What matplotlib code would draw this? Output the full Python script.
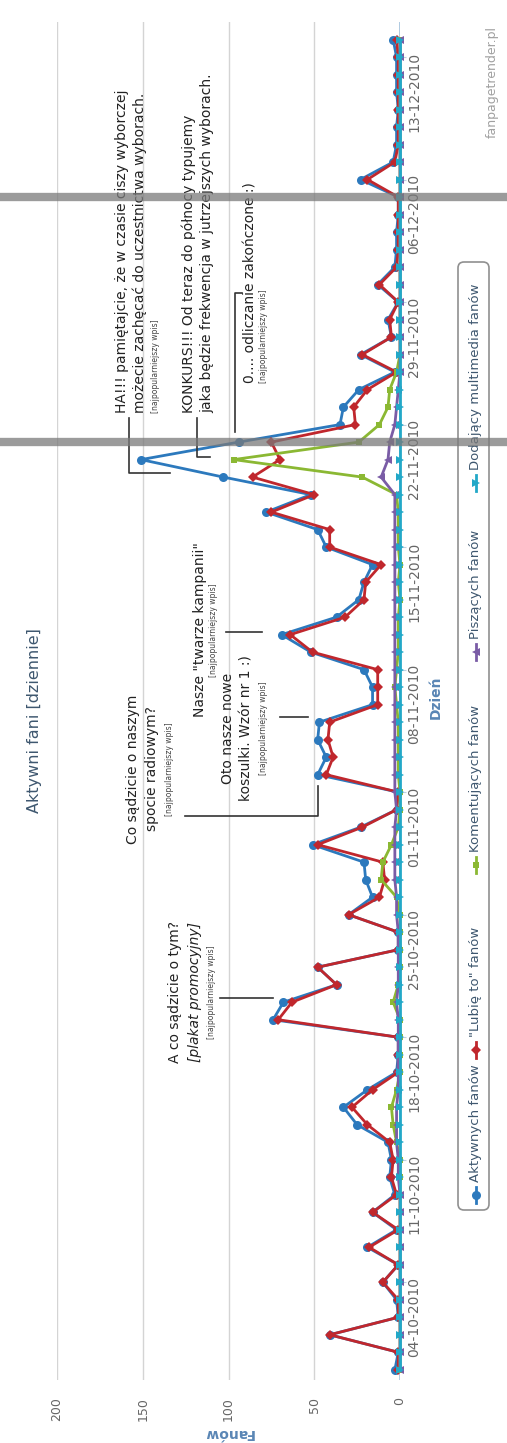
import matplotlib
matplotlib.use("Agg")
import matplotlib.pyplot as plt
import matplotlib.dates as mdates
import matplotlib.transforms as mtransforms
from matplotlib.patches import FancyBboxPatch
from matplotlib.lines import Line2D
import pandas as pd

W, H = 507, 1443

# ---- data -------------------------------------------------------------
dates = pd.date_range("2010-09-29", "2010-12-14", freq="D")

aktywni = [3, 1, 41, 1, 2, 10, 1, 19, 2, 16,
           3, 6, 5, 7, 25, 33, 19, 2, 1, 1,
           74, 68, 37, 48, 1, 1, 30, 16, 20, 21,
           51, 23, 2, 1, 48, 43, 48, 47, 16, 16,
           21, 52, 69, 37, 24, 21, 16, 43, 48, 78,
           52, 103, 151, 94, 35, 33, 24, 3, 23, 5,
           7, 1, 13, 3, 2, 2, 1, 1, 23, 4,
           2, 2, 1, 2, 2, 2, 4]

lubie_to = [1, 1, 41, 1, 1, 10, 1, 18, 1, 16,
            2, 5, 4, 6, 19, 28, 16, 1, 1, 1,
            71, 63, 37, 48, 1, 1, 30, 12, 9, 10,
            48, 22, 2, 1, 43, 39, 42, 41, 13, 13,
            13, 51, 64, 32, 21, 20, 11, 41, 41, 75,
            50, 86, 70, 75, 26, 27, 19, 2, 22, 5,
            6, 1, 12, 2, 1, 1, 1, 1, 19, 3,
            1, 1, 1, 1, 1, 1, 2]

komentujacy = [0, 0, 0, 0, 0, 0, 0, 0, 0, 0,
               0, 0, 0, 2, 4, 5, 2, 0, 0, 0,
               0, 4, 1, 0, 0, 0, 0, 2, 11, 10,
               5, 1, 0, 0, 1, 1, 1, 1, 2, 3,
               2, 1, 1, 1, 0, 1, 0, 1, 1, 1,
               2, 22, 97, 24, 12, 7, 6, 2, 0, 0,
               0, 0, 0, 0, 0, 0, 0, 0, 0, 0,
               0, 0, 0, 0, 0, 0, 0]

piszacy = [0, 0, 0, 0, 0, 0, 0, 0, 0, 0,
           0, 1, 1, 2, 2, 2, 1, 1, 1, 1,
           1, 2, 1, 1, 1, 1, 2, 2, 3, 3,
           3, 3, 2, 3, 3, 3, 3, 3, 3, 3,
           3, 3, 3, 3, 3, 3, 3, 3, 3, 3,
           3, 11, 7, 6, 3, 2, 1, 0, 0, 0,
           0, 0, 0, 0, 0, 0, 0, 0, 0, 0,
           0, 0, 0, 0, 0, 0, 0]

multimedia = [0] * 77

series = [
    ("Aktywnych fanów", aktywni, "#2c79bd", "o", 6.5),
    ("\"Lubię to\" fanów", lubie_to, "#c0272d", "D", 5.0),
    ("Komentujących fanów", komentujacy, "#8bb833", "s", 5.0),
    ("Piszących fanów", piszacy, "#7a5ca6", "<", 6.0),
    ("Dodający multimedia fanów", multimedia, "#22a8c8", ">", 6.0),
]

week_ticks = pd.date_range("2010-10-04", "2010-12-13", freq="7D")
value_ticks = [0, 50, 100, 150, 200]
election_days = pd.to_datetime(["2010-11-21", "2010-12-05"])

# ---- figure -----------------------------------------------------------
fig = plt.figure(figsize=(W / 100, H / 100), dpi=100)
fig.patch.set_facecolor("white")
ax = fig.add_axes([57 / W, 63 / H, 343 / W, 1358 / H])
ax.set_facecolor("white")

for name, vals, col, mk, ms in series:
    ax.plot(vals, dates, color=col, lw=2.0, marker=mk, ms=ms,
            markeredgewidth=0, clip_on=False, zorder=3, solid_joinstyle="round")

ax.set_xlim(200, 0)
ax.set_ylim(dates[0] - pd.Timedelta(hours=14), dates[-1] + pd.Timedelta(hours=24))
ax.set_xticks(value_ticks)
ax.set_yticks(week_ticks)
ax.yaxis.set_major_formatter(mdates.DateFormatter("%d-%m-%Y"))
ax.yaxis.tick_right()

for s in ax.spines.values():
    s.set_visible(False)
ax.grid(axis="x", color="#d4d4d4", lw=1.0, zorder=0)
ax.axvline(0, color="#a9c6df", lw=2.0, zorder=2)

ax.tick_params(axis="x", length=0, pad=12, labelsize=9, labelcolor="#666666",
               labelrotation=90)
ax.tick_params(axis="y", length=4, color="#C0D0E0", pad=1, labelsize=10,
               labelcolor="#666666", labelrotation=90)

# ---- overlay helpers (pixel coordinates, origin top-left) ---------------
ident = mtransforms.IdentityTransform()


def vtext(x, y, s, size=10, ha="center", va="center", **kw):
    fig.text(x, H - y, s, rotation=90, fontsize=size, ha=ha, va=va,
             transform=ident, zorder=8, **kw)


def path(points, color="#333333", lw=1.2):
    xs = [p[0] for p in points]
    ys = [H - p[1] for p in points]
    fig.add_artist(Line2D(xs, ys, color=color, lw=lw, transform=ident, zorder=5))


# title, axis titles, credits
vtext(35, 721, "Aktywni fani [dziennie]", size=11.5, color="#3E576F")
fig.text(228, H - 1433, "Fanów", rotation=180, fontsize=10, fontweight="bold",
         color="#5a86b5", ha="center", va="center", transform=ident)
vtext(436, 697, "Dzień", size=10, fontweight="bold", color="#5a86b5")
vtext(492, 82, "fanpagetrender.pl", size=9, color="#a0a0a0")

# annotations on the most popular posts
small = "[najpopularniejszy wpis]"
vtext(175, 992, "A co sądzicie o tym?", size=10, color="#222222")
vtext(195, 992, "[plakat promocyjny]", size=10, style="italic", color="#222222")
vtext(212, 992, small, size=5.5, color="#444444")
path([(220, 998), (273, 998)])

vtext(133, 769, "Co sądzicie o naszym", size=10, color="#222222")
vtext(152, 769, "spocie radiowym?", size=10, color="#222222")
vtext(169, 769, small, size=5.5, color="#444444")
path([(185, 816), (318, 816), (318, 786)])

vtext(228, 728, "Oto nasze nowe", size=10, color="#222222")
vtext(247, 728, "koszulki. Wzór nr 1 :)", size=10, color="#222222")
vtext(264, 728, small, size=5.5, color="#444444")
path([(280, 717), (308, 717)])

vtext(200, 630, "Nasze \"twarze kampanii\"", size=10, color="#222222")
vtext(213, 630, small, size=5.5, color="#444444")
path([(226, 632), (262, 632)])

vtext(122, 413, "HA!!! pamiętajcie, że w czasie ciszy wyborczej", size=10,
      va="bottom", color="#222222")
vtext(140, 413, "możecie zachęcać do uczestnictwa wyborach.", size=10,
      va="bottom", color="#222222")
vtext(155, 413, small, size=5.5, va="bottom", color="#444444")
path([(129, 418), (129, 473), (170, 473)])

vtext(189, 413, "KONKURS!!! Od teraz do północy typujemy", size=10,
      va="bottom", color="#222222")
vtext(207, 413, "jaka będzie frekwencja w jutrzejszych wyborach.", size=10,
      va="bottom", color="#222222")
path([(197, 418), (197, 457), (210, 457)])

vtext(250, 383, "0.... odliczanie zakończone :)", size=10, va="bottom",
      color="#222222")
vtext(264, 383, small, size=5.5, va="bottom", color="#444444")
path([(242, 293), (235, 293), (235, 432)])

# ---- legend -----------------------------------------------------------
box = FancyBboxPatch((458, H - 1210), 31, 1210 - 262,
                     boxstyle="round,pad=0,rounding_size=6",
                     fc="white", ec="#909090", lw=1.2, transform=ident, zorder=4)
fig.add_artist(box)
legend_y = [1195, 1050, 865, 652, 483]
for (name, vals, col, mk, ms), ly in zip(series, legend_y):
    fig.add_artist(Line2D([476, 476], [H - ly - 8, H - ly + 8], color=col, lw=2,
                          transform=ident, zorder=6))
    fig.add_artist(Line2D([476], [H - ly], color=col, marker=mk, ms=ms,
                          markeredgewidth=0, transform=ident, zorder=7))
    vtext(476, ly - 13, name, size=9.5, va="bottom", color="#3E576F")

# ---- election-day markers across the whole chart -----------------------
blend = mtransforms.blended_transform_factory(fig.transFigure, ax.transData)
for d in election_days:
    fig.add_artist(Line2D([0, 1], [mdates.date2num(d)] * 2, color="#7a7a7a",
                          lw=6, alpha=0.75, transform=blend, zorder=10))

fig.savefig("out.png", dpi=100, facecolor="white")
